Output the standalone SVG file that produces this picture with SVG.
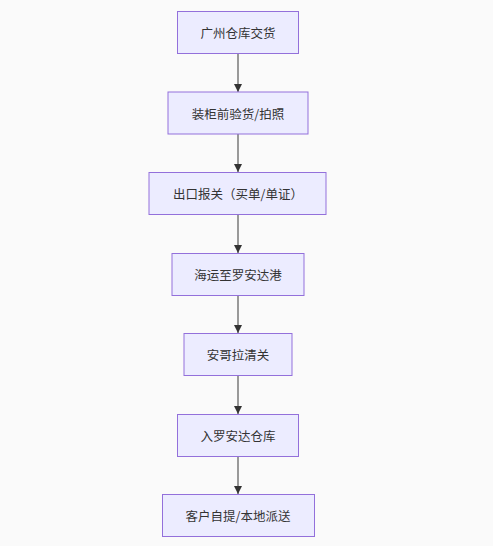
<svg xmlns="http://www.w3.org/2000/svg" width="493" height="546" viewBox="0 0 493 546">
<style>
.bg{fill:#fafafa}
.node rect{fill:#ececff;stroke:#9370db;stroke-width:1}
.node text{font-family:"Noto Sans CJK SC","Liberation Sans",sans-serif;font-size:12.5px;fill:#333;text-anchor:middle;dominant-baseline:central}
.edge{stroke:#999;stroke-width:2;fill:none;marker-end:url(#arr)}
</style>
<defs>
<marker id="arr" viewBox="0 0 10 10" refX="10" refY="5" markerWidth="8" markerHeight="8" markerUnits="userSpaceOnUse" orient="auto">
<path d="M0,0 L10,5 L0,10 z" fill="#333"/>
</marker>
</defs>
<rect class="bg" width="493" height="546"/>
<g id="connectors">
<line class="edge" x1="238" y1="53" x2="238" y2="92"/>
<line class="edge" x1="238" y1="134" x2="238" y2="172"/>
<line class="edge" x1="238" y1="214" x2="238" y2="253"/>
<line class="edge" x1="238" y1="295" x2="238" y2="333"/>
<line class="edge" x1="238" y1="375" x2="238" y2="414"/>
<line class="edge" x1="238" y1="456" x2="238" y2="494"/>
</g>
<g id="n1" class="node"><rect x="177.5" y="11.5" width="121" height="42"/><text x="238" y="32.5">广州仓库交货</text></g>
<g id="n2" class="node"><rect x="168" y="92" width="140" height="42"/><text x="238" y="113">装柜前验货/拍照</text></g>
<g id="n3" class="node"><rect x="149" y="172.5" width="177" height="42"/><text x="238" y="193.5">出口报关（买单/单证）</text></g>
<g id="n4" class="node"><rect x="172" y="253.5" width="132" height="42"/><text x="238" y="274.5">海运至罗安达港</text></g>
<g id="n5" class="node"><rect x="184" y="333.5" width="108" height="42"/><text x="238" y="354.5">安哥拉清关</text></g>
<g id="n6" class="node"><rect x="177.5" y="414.5" width="121" height="42"/><text x="238" y="435.5">入罗安达仓库</text></g>
<g id="n7" class="node"><rect x="162.5" y="494.5" width="152" height="42"/><text x="238" y="515.5">客户自提/本地派送</text></g>
</svg>
